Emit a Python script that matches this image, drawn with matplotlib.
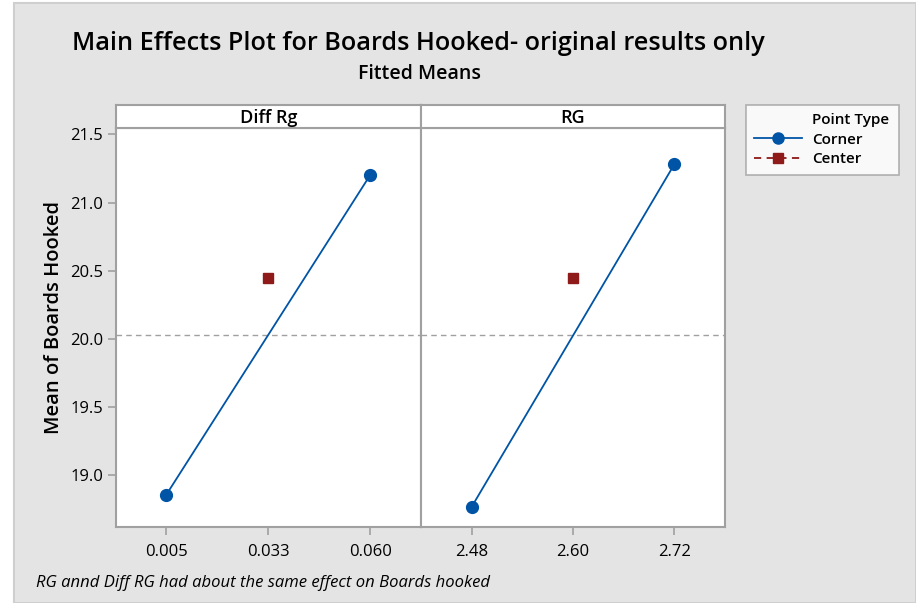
import matplotlib
matplotlib.use("Agg")
import matplotlib.pyplot as plt
from matplotlib.lines import Line2D
from matplotlib.patches import Rectangle

plt.rcParams['font.family'] = ['Open Sans', 'DejaVu Sans']

# ---- data ----
factors = ["Diff Rg", "RG"]
level_labels = [["0.005", "0.033", "0.060"], ["2.48", "2.60", "2.72"]]
corner_low = [18.86, 18.77]
corner_high = [21.20, 21.28]
center_mean = [20.45, 20.45]
grand_mean = 20.03
yticks = [19.0, 19.5, 20.0, 20.5, 21.0, 21.5]

title = "Main Effects Plot for Boards Hooked- original results only"
subtitle = "Fitted Means"
ylabel = "Mean of Boards Hooked"
footnote = "RG annd Diff RG had about the same effect on Boards hooked"

BLUE = "#0054A6"
RED = "#8E1A1A"
GRAY = "#A0A0A0"
BG = "#E4E4E4"

W, H = 916, 603
fig = plt.figure(figsize=(W / 100, H / 100), dpi=100)
fig.patch.set_facecolor("white")

# gray background panel with border
bgax = fig.add_axes([0, 0, 1, 1], zorder=-10)
bgax.set_xlim(0, W); bgax.set_ylim(H, 0); bgax.axis("off")
bgax.add_patch(Rectangle((14, 3), W - 14, H - 3, facecolor=BG, edgecolor="#CFCFCF", lw=1.5))

def fx(px): return px / W
def fy(py): return 1 - py / H

left, right, divider = 115.5, 725, 421
top, bottom, strip_top = 128.3, 527.3, 105
ylim = (18.62, 21.544)

for i, f in enumerate(factors):
    x0 = left if i == 0 else divider
    x1 = divider if i == 0 else right
    ax = fig.add_axes([fx(x0), fy(bottom), fx(x1 - x0), fy(top) - fy(bottom)])
    ax.set_facecolor("white")
    ax.set_xlim(-0.5, 2.5)
    ax.set_ylim(*ylim)
    ax.axhline(grand_mean, color=GRAY, lw=1.0, ls=(0, (4, 3)), zorder=1)
    ax.plot([0, 2], [corner_low[i], corner_high[i]], color=BLUE, lw=1.3,
            marker="o", ms=8.5, zorder=3)
    ax.plot([1], [center_mean[i]], color=RED, ls="none", marker="s", ms=7.5, zorder=3)
    ax.set_xticks([0, 1, 2])
    ax.set_xticklabels(level_labels[i], fontsize=12)
    ax.set_yticks(yticks)
    if i == 0:
        ax.set_yticklabels([f"{v:.1f}" for v in yticks], fontsize=12)
        ax.tick_params(axis="y", length=6, width=1.2, color=GRAY, pad=3)
    else:
        ax.tick_params(axis="y", left=False, labelleft=False)
    ax.tick_params(axis="x", length=6, width=1.2, color=GRAY, pad=6)
    for s in ax.spines.values():
        s.set_color(GRAY); s.set_linewidth(1.5)

    sax = fig.add_axes([fx(x0), fy(top), fx(x1 - x0), fy(strip_top) - fy(top)])
    sax.set_facecolor("white")
    sax.set_xticks([]); sax.set_yticks([])
    for s in sax.spines.values():
        s.set_color(GRAY); s.set_linewidth(1.5)
    sax.text(0.5, 0.45, f, ha="center", va="center", fontsize=13, fontweight="semibold",
             transform=sax.transAxes)

fig.text(fx(418), fy(44), title, ha="center", va="center", fontsize=18.2, fontweight="semibold")
fig.text(fx(420), fy(74), subtitle, ha="center", va="center", fontsize=14, fontweight="semibold")
fig.text(fx(54), fy(318), ylabel, ha="center", va="center", rotation=90, fontsize=14.5, fontweight="semibold")
fig.text(fx(36), fy(583), footnote, ha="left", va="center", fontsize=12, style="italic")

# legend
handles = [
    Line2D([], [], color="none"),
    Line2D([], [], color=BLUE, lw=1.3, marker="o", ms=8),
    Line2D([], [], color=RED, lw=1.3, ls=(0, (4, 3)), marker="s", ms=7),
]
labels = ["Point Type", "Corner", "Center"]
leg = fig.legend(handles, labels, loc="upper left",
                 bbox_to_anchor=(fx(746), fy(177), fx(899 - 746), fy(105) - fy(177)),
                 mode="expand", frameon=True, fancybox=False, fontsize=11,
                 handlelength=3.1, handletextpad=0.7, labelspacing=0.35,
                 borderpad=0.55, borderaxespad=0)
leg.get_frame().set_edgecolor(GRAY)
leg.get_frame().set_linewidth(1.2)
for t in leg.get_texts():
    t.set_fontweight("semibold")

fig.savefig("out.png", dpi=100, facecolor=fig.get_facecolor())
